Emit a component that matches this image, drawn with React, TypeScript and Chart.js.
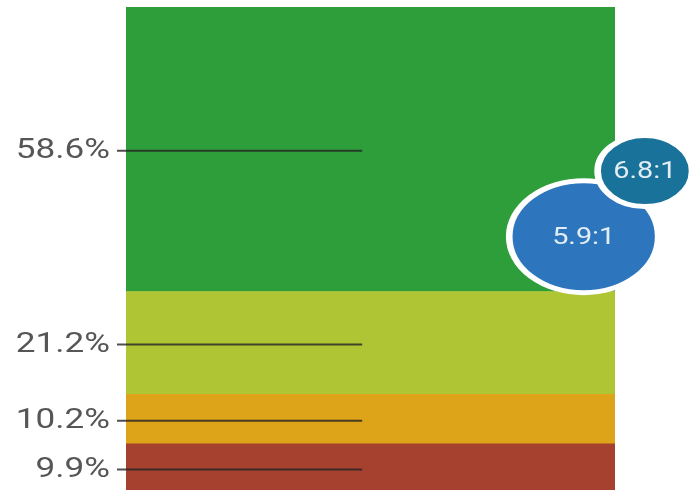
import React, { useEffect, useRef } from "react";
import { Chart, registerables } from "chart.js";

Chart.register(...registerables);

// Stacked shares (bottom to top)
const shareLabels = ["9.9%", "10.2%", "21.2%", "58.6%"];
const shareValues = [9.9, 10.2, 21.2, 58.6];
const shareColors = ["#a6402f", "#dda319", "#afc534", "#2e9e3a"];

// Ratio bubbles (positions in chart data units)
const ratioLabels = ["5.9:1", "6.8:1"];
const ratioX = [93.6, 106.1];
const ratioY = [52.6, 66.1];
const ratioR = [56, 35.5];
const ratioColors = ["#2d76be", "#197299"];

const TOTAL = shareValues.reduce((a, b) => a + b, 0);
const STRETCH = 1.33;

const ellipseBubbles = {
  id: "ellipseBubbles",
  beforeDatasetDraw(chart: any, args: any) {
    const ds = chart.data.datasets[args.index];
    if (ds.type !== "bubble") return;
    const ctx = chart.ctx;
    const big = { left: -10000, top: -10000, right: 10000, bottom: 10000 };
    args.meta.data.forEach((el: any, i: number) => {
      ctx.save();
      ctx.translate(el.x, el.y);
      ctx.scale(STRETCH, 1);
      ctx.translate(-el.x, -el.y);
      el.draw(ctx, big);
      ctx.restore();
      ctx.save();
      ctx.translate(el.x, el.y + 1);
      ctx.scale(1.2, 1);
      ctx.fillStyle = "#e3edf4";
      ctx.font = "24px Roboto";
      ctx.textAlign = "center";
      ctx.textBaseline = "middle";
      ctx.fillText(ratioLabels[i], 0, 0);
      ctx.restore();
    });
    return false;
  },
};

const leaderLabels = {
  id: "leaderLabels",
  afterDatasetsDraw(chart: any) {
    const ctx = chart.ctx;
    const area = chart.chartArea;
    const textRight = area.left - 16;
    const lineStart = area.left - 9;
    const lineEnd = area.left + (area.right - area.left) * 0.483;
    shareValues.forEach((_, i) => {
      const meta = chart.getDatasetMeta(i);
      const el: any = meta.data[0];
      if (!el) return;
      const mid = (el.y + el.base) / 2 + 1.5;
      ctx.save();
      ctx.strokeStyle = "rgba(35,35,35,0.8)";
      ctx.lineWidth = 2;
      ctx.beginPath();
      ctx.moveTo(lineStart, mid);
      ctx.lineTo(lineEnd, mid);
      ctx.stroke();
      ctx.restore();
      ctx.save();
      ctx.translate(textRight, mid);
      ctx.scale(1.3, 1);
      ctx.fillStyle = "#565656";
      ctx.font = "27px Roboto";
      ctx.textAlign = "right";
      ctx.textBaseline = "middle";
      ctx.fillText(shareLabels[i], 0, 1);
      ctx.restore();
    });
  },
};

export default function App() {
  const ref = useRef<HTMLCanvasElement>(null);
  useEffect(() => {
    if (!ref.current) return;
    const barSets = shareValues.map((v, i) => ({
      type: "bar" as const,
      label: shareLabels[i],
      data: [v],
      backgroundColor: shareColors[i],
      borderWidth: 0,
      barPercentage: 1,
      categoryPercentage: 1,
      grouped: false,
      xAxisID: "x",
      yAxisID: "y",
      stack: "s",
    }));
    const bubbleSet: any = {
      type: "bubble" as const,
      label: "ratios",
      data: ratioLabels.map((_, i) => ({ x: ratioX[i], y: ratioY[i], r: ratioR[i] })),
      backgroundColor: ratioColors,
      borderColor: "#ffffff",
      borderWidth: 5,
      xAxisID: "x2",
      yAxisID: "y2",
      clip: false,
      order: -1,
    };
    const chart = new Chart(ref.current, {
      type: "bar",
      data: { labels: [""], datasets: [...barSets, bubbleSet] as any },
      options: {
        animation: false,
        responsive: false,
        layout: { autoPadding: false, padding: { left: 126, right: 83, top: 7, bottom: 8 } },
        plugins: { legend: { display: false }, tooltip: { enabled: false } },
        scales: {
          x: { type: "category", display: false, stacked: true },
          x2: { type: "linear", min: 0, max: 100, display: false, offset: false, grid: { offset: false } },
          y: { stacked: true, min: 0, max: TOTAL, display: false },
          y2: { type: "linear", min: 0, max: TOTAL, display: false, offset: false },
        },
      } as any,
      plugins: [ellipseBubbles, leaderLabels],
    });
    return () => chart.destroy();
  }, []);
  return (
    <div style={{ position: "fixed", left: 0, top: 0, width: 698, height: 500, background: "#fff" }}>
      <canvas ref={ref} width={698} height={500} style={{ display: "block" }} />
    </div>
  );
}
